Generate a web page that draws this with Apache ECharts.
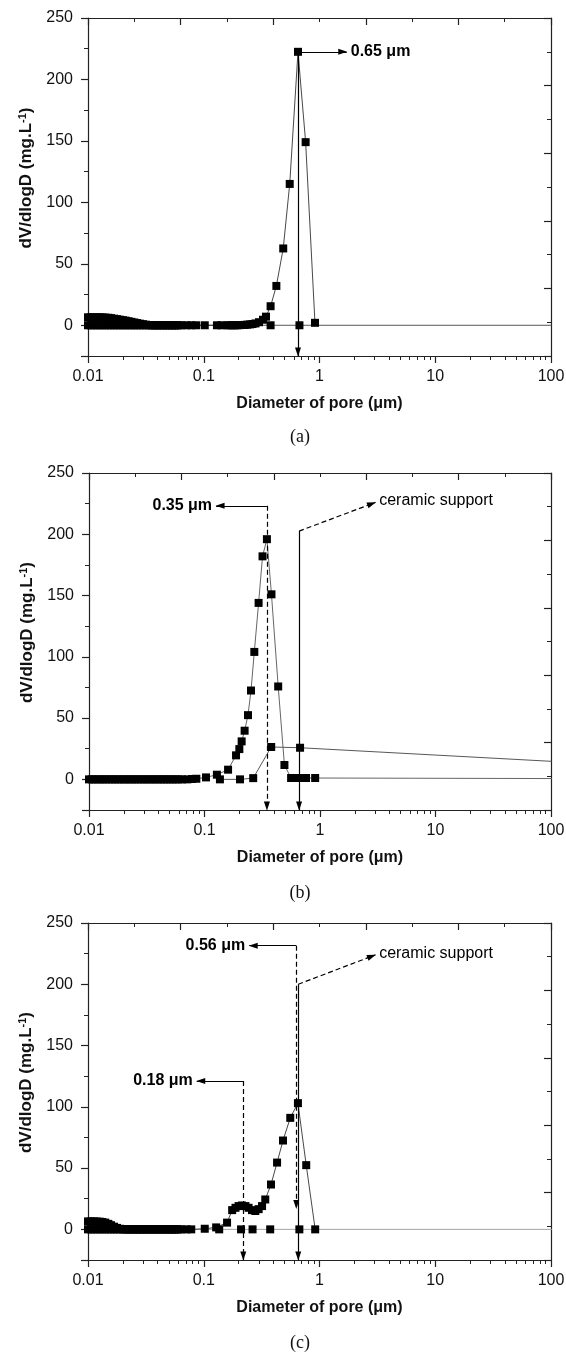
<!DOCTYPE html>
<html><head><meta charset="utf-8">
<script src="https://cdn.jsdelivr.net/npm/echarts@6/dist/echarts.min.js"></script>
<style>html,body{margin:0;padding:0;background:#fff}#c{width:566px;height:1355px}</style>
</head><body><div id="c"></div>
<script>
// ---------------- data (diameter in µm, dV/dlogD) ----------------
const A_MEMBRANE = [[0.0100,6.5],[0.0106,6.5],[0.0112,6.5],[0.0119,6.5],[0.0126,6.5],[0.0133,6.4],[0.0141,6.3],[0.0150,6.1],[0.0158,5.8],[0.0168,5.4],[0.0178,5.0],[0.0188,4.6],[0.0200,4.2],[0.0211,3.8],[0.0224,3.3],[0.0237,2.8],[0.0251,2.3],[0.0266,1.8],[0.0282,1.3],[0.0299,0.9],[0.0316,0.5],[0.0335,0.2],[0.0355,0],[0.0376,0],[0.0398,0],[0.0422,0],[0.0447,0],[0.0473,0],[0.0501,0],[0.0531,0],[0.0562,0],[0.0595,0],[0.064,0],[0.071,0],[0.078,0],[0.086,0],[0.102,0],[0.130,0],[0.142,0],[0.160,0],[0.168,0],[0.176,0],[0.185,0],[0.194,0],[0.204,0.1],[0.214,0.2],[0.225,0.3],[0.237,0.5],[0.250,0.7],[0.264,1.0],[0.280,1.5],[0.300,2.5],[0.325,4.5],[0.345,7],[0.378,15.5],[0.424,32],[0.486,62.5],[0.553,115],[0.652,222.5],[0.759,149],[0.914,2]];
const A_ZERO = [[0.0100,0],[0.0106,0],[0.0112,0],[0.0119,0],[0.0126,0],[0.0133,0],[0.0141,0],[0.0150,0],[0.0158,0],[0.0168,0],[0.0178,0],[0.0188,0],[0.0200,0],[0.0211,0],[0.0224,0],[0.0237,0],[0.0251,0],[0.0266,0],[0.0282,0],[0.0299,0],[0.0316,0],[0.0335,0],[0.0355,0],[0.0376,0],[0.0398,0],[0.0422,0],[0.0447,0],[0.0473,0],[0.0501,0],[0.0531,0],[0.0562,0],[0.0595,0],[0.378,0],[0.671,0],[200,0]];

const B_MEMBRANE = [[0.0100,0],[0.0106,0],[0.0112,0],[0.0119,0],[0.0126,0],[0.0133,0],[0.0141,0],[0.0150,0],[0.0158,0],[0.0168,0],[0.0178,0],[0.0188,0],[0.0200,0],[0.0211,0],[0.0224,0],[0.0237,0],[0.0251,0],[0.0266,0],[0.0282,0],[0.0299,0],[0.0316,0],[0.0335,0],[0.0355,0],[0.0376,0],[0.0398,0],[0.0422,0],[0.0447,0],[0.0473,0],[0.0501,0],[0.0531,0],[0.0562,0],[0.0595,0],[0.064,0],[0.071,0],[0.078,0.3],[0.085,0.5],[0.103,1.6],[0.128,3.8],[0.160,7.9],[0.1875,19.6],[0.2003,24.7],[0.2097,31],[0.2225,39.7],[0.238,52.4],[0.2527,72.5],[0.270,104],[0.294,144],[0.318,182],[0.347,196],[0.380,151],[0.4345,75.8],[0.492,11.7],[0.562,1.1],[0.650,1.1],[0.757,1.1],[0.908,1.1],[200,0.6]];
const B_SUPPORT = [[0.136,0],[0.203,0],[0.264,1],[0.378,26.4],[0.672,25.8],[200,13.2]];

const C_MEMBRANE = [[0.0100,6.5],[0.0106,6.5],[0.0112,6.5],[0.0119,6.4],[0.0126,6.3],[0.0133,6.0],[0.0141,5.5],[0.0150,4.5],[0.0158,3.4],[0.0168,2.2],[0.0178,1.2],[0.0188,0.5],[0.0200,0.2],[0.0211,0],[0.0224,0],[0.0237,0],[0.0251,0],[0.0266,0],[0.0282,0],[0.0299,0],[0.0316,0],[0.0335,0],[0.0355,0],[0.0376,0],[0.0398,0],[0.0422,0],[0.0447,0],[0.0473,0],[0.0501,0],[0.0531,0],[0.0562,0],[0.0595,0],[0.064,0],[0.071,0],[0.078,0],[0.102,0.5],[0.128,1.6],[0.159,5.5],[0.176,15.7],[0.188,17.6],[0.200,19],[0.214,19.5],[0.229,19],[0.244,17.6],[0.261,15.7],[0.279,15],[0.298,16.5],[0.319,19],[0.340,24.4],[0.381,36.6],[0.430,54.5],[0.484,72.5],[0.559,91],[0.651,103],[0.768,52.4],[0.918,0]];
const C_SUPPORT = [[0.0100,0],[0.0106,0],[0.0112,0],[0.0119,0],[0.0126,0],[0.0133,0],[0.0141,0],[0.0150,0],[0.0158,0],[0.0168,0],[0.0178,0],[0.0188,0],[0.0200,0],[0.0211,0],[0.0224,0],[0.0237,0],[0.0251,0],[0.0266,0],[0.0282,0],[0.0299,0],[0.0316,0],[0.0335,0],[0.0355,0],[0.0376,0],[0.0398,0],[0.0422,0],[0.0447,0],[0.0473,0],[0.0501,0],[0.0531,0],[0.0562,0],[0.0595,0],[0.136,0],[0.210,0],[0.264,0],[0.375,0],[0.670,0],[200,0]];

// annotation arrows (data coordinates: [diameter, dV/dlogD])
const A_NOTES = [
  {from:[0.652,222.5], to:[0.652,-25]},
  {from:[0.652,222.5], to:[1.72,222.5], text:'0.65 μm', bold:true}
];
const B_NOTES = [
  {from:[0.347,223.2], to:[0.347,-25], dashed:true},
  {from:[0.347,223.2], to:[0.126,223.2], text:'0.35 μm', bold:true},
  {from:[0.659,202.6], to:[0.659,-25]},
  {from:[0.659,202.6], to:[3.02,226], dashed:true, text:'ceramic support'}
];
const C_NOTES = [
  {from:[0.63,231.5], to:[0.63,17], dashed:true},
  {from:[0.63,231.5], to:[0.247,231.5], text:'0.56 μm', bold:true},
  {from:[0.2195,121], to:[0.2195,-25], dashed:true},
  {from:[0.2195,121], to:[0.087,121], text:'0.18 μm', bold:true},
  {from:[0.655,200], to:[0.655,-25]},
  {from:[0.655,200], to:[3.04,224], dashed:true, text:'ceramic support'}
];

// axes
const X_MIN = 0.01, X_MAX = 100;
const X_MINOR_TICKS = [0.02,0.03,0.04,0.05,0.06,0.07,0.08,0.09,0.2,0.3,0.4,0.5,0.6,0.7,0.8,0.9,2,3,4,5,6,7,8,9,20,30,40,50,60,70,80,90];
const Y_MIN = -25, Y_MAX = 250;
const Y_MAJOR_TICKS = [-25,0,50,100,150,200,250];
const X_TITLE = 'Diameter of pore (μm)';
const PANEL_TAGS = ['(a)','(b)','(c)'];

// ---------------- layout / style ----------------
const FONT = '"Liberation Sans", Arial, Helvetica, sans-serif';
const AX = '#222';
const PANELS = [
  {grid:{left:88, top:18, width:463, height:338}, tagY:437,
   series:[{data:A_MEMBRANE, color:'#333'}, {data:A_ZERO, color:'#444'}], notes:A_NOTES},
  {grid:{left:89, top:473, width:462, height:337}, tagY:893,
   series:[{data:B_MEMBRANE, color:'#555'}, {data:B_SUPPORT, color:'#444'}], notes:B_NOTES},
  {grid:{left:88, top:923, width:463, height:337}, tagY:1343,
   series:[{data:C_MEMBRANE, color:'#333'}, {data:C_SUPPORT, color:'#999'}], notes:C_NOTES}
];

const grid = [], xAxis = [], yAxis = [], series = [], graphic = [];
const axisLine = {show:true, onZero:false, lineStyle:{color:AX, width:1.2}};

PANELS.forEach((P, p) => {
  grid.push(Object.assign({containLabel:false, outerBoundsMode:'none'}, P.grid));
  xAxis.push({type:'log', logBase:10, gridIndex:p, min:X_MIN, max:X_MAX, position:'bottom',
    axisLine, axisTick:{show:true, length:7, lineStyle:{color:AX, width:1.2}},
    axisLabel:{show:true, color:'#111', fontSize:16, fontFamily:FONT, margin:13},
    splitLine:{show:false},
    name:X_TITLE, nameLocation:'middle', nameGap:40, nameMoveOverlap:false,
    nameTextStyle:{fontSize:16, fontWeight:'bold', fontFamily:FONT, color:'#111'}});
  xAxis.push({type:'value', gridIndex:p, min:Math.log10(X_MIN), max:Math.log10(X_MAX), position:'bottom',
    axisLine:{show:false, onZero:false},
    axisTick:{show:true, length:4, lineStyle:{color:AX, width:1}, customValues:X_MINOR_TICKS.map(Math.log10)},
    axisLabel:{show:false}, splitLine:{show:false}});
  xAxis.push({type:'value', gridIndex:p, min:0, max:5, interval:1, position:'top',
    axisLine, axisTick:{show:true, inside:true, length:7, lineStyle:{color:AX, width:1.2}},
    minorTick:{show:true, splitNumber:2, length:4, lineStyle:{color:AX, width:1}},
    axisLabel:{show:false}, splitLine:{show:false}, minorSplitLine:{show:false}});

  yAxis.push({type:'value', gridIndex:p, min:Y_MIN, max:Y_MAX, interval:25, position:'left',
    axisLine, axisTick:{show:true, length:4, lineStyle:{color:AX, width:1}},
    axisLabel:{show:true, color:'#111', fontSize:16, fontFamily:FONT, margin:15,
      formatter: v => (v >= 0 && v % 50 === 0) ? String(v) : ''},
    splitLine:{show:false},
    name:'{t|dV/dlogD (mg.L}{s|-1}{t|)}', nameLocation:'middle', nameGap:52, nameMoveOverlap:false,
    nameTextStyle:{padding:[0,0,0,18], rich:{
      t:{fontSize:17, fontWeight:'bold', fontFamily:FONT, color:'#111', lineHeight:19},
      s:{fontSize:11, fontWeight:'bold', fontFamily:FONT, color:'#111', lineHeight:19, verticalAlign:'top'}}}});
  yAxis.push({type:'value', gridIndex:p, min:Y_MIN, max:Y_MAX, position:'left',
    axisLine:{show:false, onZero:false},
    axisTick:{show:true, length:7, lineStyle:{color:AX, width:1.2}, customValues:Y_MAJOR_TICKS},
    axisLabel:{show:false}, splitLine:{show:false}});
  yAxis.push({type:'value', gridIndex:p, min:0, max:5, interval:1, position:'right',
    axisLine, axisTick:{show:true, inside:true, length:7, lineStyle:{color:AX, width:1.2}},
    minorTick:{show:true, splitNumber:2, length:4, lineStyle:{color:AX, width:1}},
    axisLabel:{show:false}, splitLine:{show:false}, minorSplitLine:{show:false}});

  const xi = 3*p, yi = 3*p;
  const ml = P.notes.map(n => [
    {coord:n.from, symbol:'none',
     lineStyle:{color:'#000', width:1.2, type: n.dashed ? [5,3] : 'solid'},
     label: n.text ? {show:true, position:'end', formatter:n.text, distance:4,
       color:'#000', fontSize:16, fontFamily:FONT, fontWeight: n.bold ? 'bold' : 'normal'} : {show:false}},
    {coord:n.to, symbol:'triangle', symbolSize:[6,9], symbolOffset:[0,4]}
  ]);
  P.series.forEach((S, k) => {
    series.push({type:'line', xAxisIndex:xi, yAxisIndex:yi, data:S.data,
      symbol:'rect', symbolSize:8, showSymbol:true, showAllSymbol:true,
      itemStyle:{color:'#000'}, lineStyle:{color:S.color, width:0.9},
      emphasis:{disabled:true}, animation:false, silent:true, z: 3 - k,
      markLine: k === 0 ? {silent:true, animation:false, symbol:['none','triangle'],
        itemStyle:{color:'#000'}, data:ml} : undefined});
  });

  graphic.push({type:'text', x:300, y:P.tagY, style:{text:PANEL_TAGS[p], fontFamily:'"Liberation Serif", "Times New Roman", serif',
    fontSize:18, fill:'#111', align:'center', verticalAlign:'middle'}});
});

const chart = echarts.init(document.getElementById('c'), null, {renderer:'canvas'});
chart.setOption({backgroundColor:'#fff', animation:false, grid, xAxis, yAxis, series, graphic});
</script></body></html>
